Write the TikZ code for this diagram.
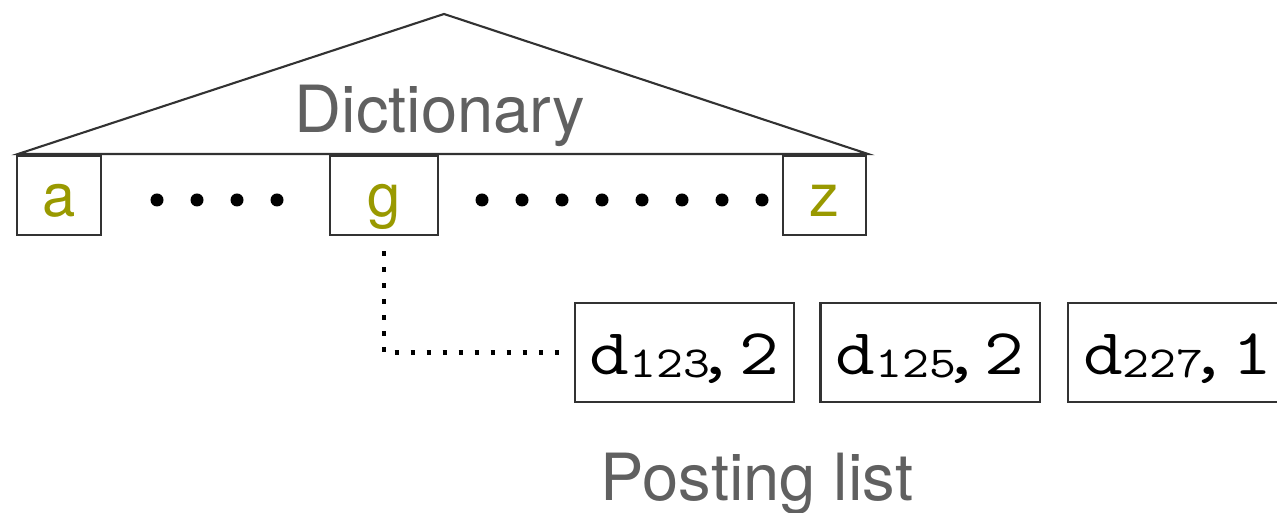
\documentclass[tikz,border=0pt]{standalone}
\usepackage{fontspec}
\setsansfont{TeX Gyre Heros}
\usetikzlibrary{positioning}
\definecolor{termolive}{RGB}{153,153,0}
\definecolor{labelgray}{RGB}{96,96,96}
\definecolor{boxline}{RGB}{50,50,50}
\newcommand{\posting}[2]{\scalebox{1.18}[1]{d\raisebox{-0.03cm}{\fontsize{12.6}{14}\selectfont #1}\kern-0.127cm,\kern0.034cm#2}}

\begin{document}
\begin{tikzpicture}[
  x=0.01cm,
  y=-0.01cm,
  line width=0.6pt,
  every node/.style={inner sep=0pt},
  termbox/.style={
    draw=boxline,
    minimum height=0.79cm,
    text height=0.51cm,
    text depth=0.10cm,
    text=termolive,
    font=\sffamily\fontsize{17}{20}\selectfont,
  },
  postbox/.style={
    draw=boxline,
    minimum width=2.19cm,
    minimum height=0.99cm,
    text height=0.52cm,
    text depth=0.09cm,
    font=\ttfamily\fontsize{18.6}{22}\selectfont,
  },
  biglabel/.style={font=\sffamily\fontsize{18.5}{22}\selectfont, text=labelgray, anchor=base},
  dotmark/.style={circle, fill=black, minimum size=0.13cm},
  link/.style={line width=0.045cm, dash pattern=on 0.045cm off 0.115cm},
]
\useasboundingbox (0,0) rectangle (1277,513);

% dictionary
\coordinate (apex) at (444,14);
\coordinate (baseL) at (18,154);
\coordinate (baseR) at (868,154);
\draw[boxline] (baseL) -- (apex) -- (baseR) -- cycle;
\node[biglabel] (dict) at (440,133) {Dictionary};

\node[termbox, minimum width=0.84cm] (a) at (59,195.5) {a};
\node[termbox, minimum width=1.08cm] (g) at (384,195.5) {g};
\node[termbox, minimum width=0.83cm] (z) at (824.5,195.5) {z};

\foreach \x [count=\k] in {157,197,237,277}
  \node[dotmark] (ag\k) at (\x,200) {};
\foreach \x [count=\k] in {482,522,...,762}
  \node[dotmark] (gz\k) at (\x,200) {};

% posting list
\node[postbox] (p1) at (684.5,352.5) {\posting{123}{2}};
\node[postbox] (p2) at (930,352.5) {\posting{125}{2}};
\node[postbox] (p3) at (1177.5,352.5) {\posting{227}{1}};
\node[biglabel] (plist) at (757,500) {Posting list};

\draw[link] ([yshift=-0.15cm]g.south) |- ([xshift=-0.12cm]p1.west);
\end{tikzpicture}
\end{document}
